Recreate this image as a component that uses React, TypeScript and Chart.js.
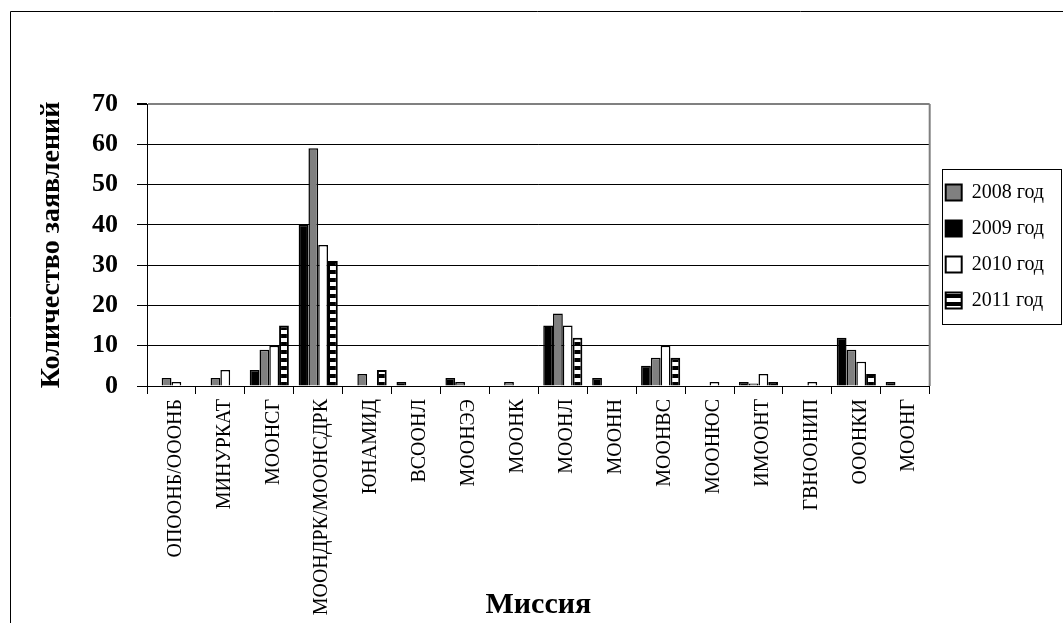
import React, { useEffect, useRef } from 'react';
import { Chart, registerables } from 'chart.js';

Chart.register(...registerables);

const categories = [
  'ОПООНБ/ОООНБ',
  'МИНУРКАТ',
  'МООНСГ',
  'МООНДРК/МООНСДРК',
  'ЮНАМИД',
  'ВСООНЛ',
  'МООНЭЭ',
  'МООНК',
  'МООНЛ',
  'МООНН',
  'МООНВС',
  'МООНЮС',
  'ИМООНТ',
  'ГВНООНИП',
  'ОООНКИ',
  'МООНГ',
];

const label2008 = '2008 год';
const label2009 = '2009 год';
const label2010 = '2010 год';
const label2011 = '2011 год';

const values2009 = [0, 0, 4, 40, 0, 1, 2, 0, 15, 2, 5, 0, 1, 0, 12, 1];
const values2008 = [2, 2, 9, 59, 3, 0, 1, 1, 18, 0, 7, 0, 0.6, 0, 9, 0];
const values2010 = [1, 4, 10, 35, 0, 0, 0, 0, 15, 0, 10, 1, 3, 1, 6, 0];
const values2011 = [0, 0, 15, 31, 4, 0, 0, 0, 12, 0, 7, 0, 1, 0, 3, 0];

const yMin = 0;
const yMax = 70;
const yStep = 10;

const yTitle = 'Количество заявлений';
const xTitle = 'Миссия';

const FONT = "'Liberation Serif', 'Times New Roman', serif";

export default function App() {
  const ref = useRef<HTMLCanvasElement>(null);

  useEffect(() => {
    document.body.style.margin = '0';
    const canvas = ref.current;
    if (!canvas) return;
    const ctx = canvas.getContext('2d')!;

    const pc = document.createElement('canvas');
    pc.width = 8;
    pc.height = 8;
    const p = pc.getContext('2d')!;
    p.fillStyle = '#000';
    p.fillRect(0, 0, 8, 8);
    p.fillStyle = '#fff';
    p.fillRect(0, 2, 8, 4);
    const stripes = ctx.createPattern(pc, 'repeat')!;

    const framePlugin = {
      id: 'frames',
      beforeDraw(chart: any) {
        const c = chart.ctx;
        c.save();
        c.fillStyle = '#fff';
        c.fillRect(0, 0, chart.width, chart.height);
        c.strokeStyle = '#000';
        c.lineWidth = 1;
        c.beginPath();
        c.moveTo(10.5, chart.height + 5);
        c.lineTo(10.5, 11.5);
        c.lineTo(chart.width + 5, 11.5);
        c.stroke();
        c.restore();
      },
      afterDraw(chart: any) {
        const c = chart.ctx;
        const a = chart.chartArea;
        c.save();
        c.strokeStyle = '#808080';
        c.lineWidth = 2;
        c.beginPath();
        c.moveTo(a.right, a.top);
        c.lineTo(a.right, a.bottom);
        c.stroke();
        const hb = chart.legend?.legendHitBoxes;
        if (hb && hb.length) {
          const first = hb[0];
          const last = hb[hb.length - 1];
          c.strokeStyle = '#000';
          c.lineWidth = 1;
          const x = Math.round(first.left - 4) + 0.5;
          const y = Math.round(first.top - 14) + 0.5;
          const h = Math.round(last.top + last.height - first.top + 27);
          c.strokeRect(x, y, 119, h);
        }
        c.restore();
      },
    };

    const chart = new Chart(canvas, {
      type: 'bar',
      data: {
        labels: categories,
        datasets: [
          { label: label2009, data: values2009, backgroundColor: '#000', borderColor: '#000', borderWidth: 1.5 },
          { label: label2008, data: values2008, backgroundColor: '#808080', borderColor: '#000', borderWidth: 1.5 },
          { label: label2010, data: values2010, backgroundColor: '#fff', borderColor: '#000', borderWidth: 1.5 },
          { label: label2011, data: values2011, backgroundColor: stripes as any, borderColor: '#000', borderWidth: 2 },
        ],
      },
      options: {
        responsive: false,
        animation: false,
        devicePixelRatio: 1,
        layout: { padding: { top: 104, right: 9, bottom: 0, left: 0 } },
        datasets: { bar: { categoryPercentage: 0.8, barPercentage: 1.0 } } as any,
        plugins: {
          tooltip: { enabled: false },
          legend: {
            position: 'right',
            align: 'start',
            title: {
              display: true,
              text: ' ',
              font: { family: FONT, size: 10 },
              padding: { top: 25, bottom: 25.5 },
            },
            labels: {
              color: '#000',
              font: { family: FONT, size: 20 },
              boxWidth: 16,
              boxHeight: 16,
              padding: 16,
              generateLabels: (ch: any) => {
                const items = (Chart.defaults.plugins.legend.labels as any).generateLabels(ch);
                items.forEach((it: any) => {
                  it.lineWidth = 2;
                  it.strokeStyle = '#000';
                });
                return items.sort((a: any, b: any) => a.text.localeCompare(b.text));
              },
            },
          },
        },
        scales: {
          x: {
            afterFit: (s: any) => {
              s.height = 237;
            },
            grid: {
              display: true,
              drawOnChartArea: false,
              offset: true,
              tickLength: 8,
              color: '#000',
              tickColor: '#000',
            },
            border: { display: true, color: '#000', width: 1 },
            ticks: {
              color: '#000',
              font: { family: FONT, size: 20 },
              minRotation: 90,
              maxRotation: 90,
              padding: 5,
              labelOffset: 4,
              autoSkip: false,
            },
            title: {
              display: true,
              text: xTitle,
              color: '#000',
              font: { family: FONT, size: 30, weight: 'bold' },
              padding: { top: 0, bottom: 0 },
            },
          },
          y: {
            min: yMin,
            max: yMax,
            afterFit: (s: any) => {
              s.width = 147;
            },
            ticks: {
              stepSize: yStep,
              color: '#000',
              font: { family: FONT, size: 26, weight: 'bold' },
              padding: 19,
            },
            grid: {
              color: (c: any) => (c.tick && c.tick.value === yMax ? '#808080' : '#000'),
              lineWidth: (c: any) => (c.tick && c.tick.value === yMax ? 2 : 1),
              tickColor: '#000',
              tickLength: 10,
            },
            border: { display: true, color: '#000', width: 1 },
            title: {
              display: true,
              text: yTitle,
              color: '#000',
              font: { family: FONT, size: 28, weight: 'bold' },
              padding: { top: 35, bottom: 0 },
            },
          },
        },
      },
      plugins: [framePlugin],
    });

    return () => chart.destroy();
  }, []);

  return (
    <div style={{ width: 1063, height: 623 }}>
      <canvas ref={ref} width={1063} height={623} />
    </div>
  );
}
